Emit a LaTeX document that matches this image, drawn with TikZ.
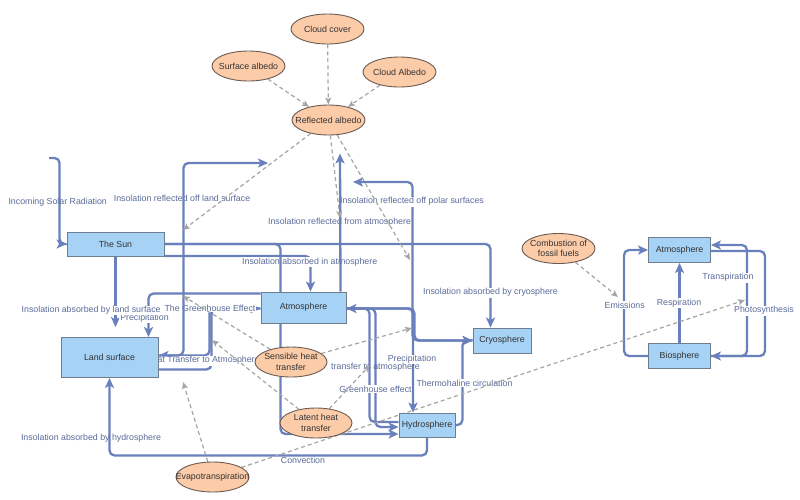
\documentclass[tikz,border=0pt]{standalone}
\usepackage{fontspec}
\setmainfont{Liberation Sans}
\usetikzlibrary{shapes.geometric,arrows.meta,calc}
\definecolor{boxfill}{HTML}{A6D2F5}
\definecolor{boxline}{HTML}{6E7E8E}
\definecolor{ellfill}{HTML}{FCCBA8}
\definecolor{ellline}{HTML}{6B5B53}
\definecolor{linkblue}{HTML}{6A80BC}
\definecolor{lbltxt}{HTML}{5B6C9A}
\definecolor{dashgray}{HTML}{A5A5A5}
\definecolor{nodetxt}{HTML}{333333}
\pgfdeclarelayer{paper}
\pgfdeclarelayer{bg}
\pgfsetlayers{paper,bg,main}
\tikzset{
  every node/.style={font=\fontsize{8.8}{10.5}\selectfont},
  box/.style={draw=boxline, line width=0.9pt, fill=boxfill, text=nodetxt, inner sep=0pt},
  ell/.style={ellipse, draw=ellline, line width=0.9pt, fill=ellfill, inner sep=0pt, minimum width=73pt, minimum height=30pt},
  elltext/.style={text=nodetxt, align=center, inner sep=0pt},
  lbl/.style={text=lbltxt, inner sep=0.8pt},
  lblw/.style={lbl, fill=white},
  plain/.style={draw=linkblue, line width=2.3pt, rounded corners=5pt},
  link/.style={plain, -{Stealth[length=10pt,width=9pt,inset=2.5pt]}},
  dasharr/.style={draw=dashgray, line width=1.2pt, dash pattern=on 4pt off 3pt, -{Stealth[length=7pt,width=6pt,inset=1.5pt]}}
}
\begin{document}
\begin{tikzpicture}[x=1pt,y=-1pt]
\begin{pgfonlayer}{paper}
\path[use as bounding box, fill=white] (0,0) rectangle (800,499);
\end{pgfonlayer}

% boxes
\node[box, minimum width=97pt, minimum height=24pt] (sun) at (115.5,244) {The Sun};
\node[box, minimum width=85pt, minimum height=31pt] (atm) at (303.5,307.5) {Atmosphere};
\node[box, minimum width=97pt, minimum height=40pt] (land) at (109.5,357.5) {Land surface};
\node[box, minimum width=58pt, minimum height=25pt] (cryo) at (502,340.5) {Cryosphere};
\node[box, minimum width=56pt, minimum height=24pt] (hydro) at (427,425) {Hydrosphere};
\node[box, minimum width=62pt, minimum height=25pt] (atmr) at (679.5,250) {Atmosphere};
\node[box, minimum width=62pt, minimum height=25pt] (bio) at (679.5,356) {Biosphere};

% ellipses
\node[ell, label={[elltext]center:Cloud cover}] (cloudcov) at (327.5,29) {};
\node[ell, label={[elltext]center:Surface albedo}] (surfalb) at (248.5,66) {};
\node[ell, label={[elltext]center:Cloud Albedo}] (cloudalb) at (399.5,72) {};
\node[ell, label={[elltext]center:Reflected albedo}] (refl) at (328.5,120) {};
\node[ell, label={[elltext]center:{Combustion of\\fossil fuels}}] (combust) at (558.5,248.5) {};
\node[ell, minimum width=72pt, label={[elltext]center:{Sensible heat\\transfer}}] (sens) at (291,362) {};
\node[ell, minimum width=72pt, label={[elltext]center:{Latent heat\\transfer}}] (latent) at (316,423) {};
\node[ell, label={[elltext]center:Evapotranspiration}] (evap) at (212.5,477) {};

% free ends
\coordinate (solarin) at (49,158);
\coordinate (reflland) at (268,163);
\coordinate (polar) at (353,182);
\coordinate (d1) at (183,230);
\coordinate (d2) at (340,218);
\coordinate (d3) at (410,260);
\coordinate (d4) at (618,297);
\coordinate (d5) at (745,300);
\coordinate (d6) at (183,382);
\coordinate (d7) at (183,296);
\coordinate (d8) at (412,328);
\coordinate (d9) at (212,340);
\coordinate (d10) at (370,365);

\begin{pgfonlayer}{bg}
% connectors under labels
\draw[link] (solarin) -| ($(sun.west)+(-7,0)$) -- (sun.west);
\draw[link] (sun.east) -| ($(cryo.north)+(-11.5,0)$);
\draw[link] ($(sun.east)+(0,12)$) -| ($(atm.north)+(7,0)$);
\draw[link, shorten >=10pt] (sun.south) -- (sun.south |- land.north);
\draw[link] ($(atm.west)+(0,-14)$) -| ($(land.north)+(39,0)$);
\draw[link] ($(atm.west)+(0,1)$) -- ++(-51,0) |- ($(land.east)+(0,-2)$);
\draw[link] ($(land.east)+(0,12)$) -- ++(53,0) |- ($(atm.west)+(0,1)$);
\draw[link] (hydro.south) -- ++(0,18) -| (land.south);
\draw[link] ($(atm.east)+(0,1)$) -| ($(hydro.north)+(-14,0)$);
\draw[link] ($(atm.east)+(0,1)$) -- ++(68,0) |- (cryo.west);
\draw[link] (cryo.west) -- ++(-60,0) |- (polar);
\draw[link] (hydro.east) -- ++(7,0) |- (cryo.west);
\draw[link] ($(hydro.west)+(0,-3)$) -- ++(-29,0) |- ($(atm.east)+(0,1)$);
\draw[link] ($(atm.east)+(0,1)$) -- ++(29,0) |- ($(hydro.west)+(0,2)$);
\draw[link] (bio.west) -- ++(-24,0) |- (atmr.west);
\draw[link] (bio.north) -- (atmr.south);
\draw[link] (bio.east) -- ++(36,0) |- ($(atmr.east)+(0,-5)$);
\draw[link] ($(atmr.east)+(0,1)$) -- ++(54,0) |- (bio.east);

% labels
\node[lbl] (t1) at (57.7,202) {Incoming Solar Radiation};
\node[lbl] (t2) at (182,198.3) {Insolation reflected off land surface};
\node[lblw] (t3) at (412,201.7) {Insolation reflected off polar surfaces};
\node[lbl] (t4) at (339.5,222.7) {Insolation reflected from atmosphere};
\node[lblw] (t5) at (309.7,262.3) {Insolation absorbed in atmosphere};
\node[lblw] (t6) at (490.5,292.7) {Insolation absorbed by cryosphere};
\node[lblw] (t7) at (144.5,318.5) {Precipitation};
\node[lblw] (t8) at (91.2,310.5) {Insolation absorbed by land surface};
\node[lblw] (t9) at (210,308) {The Greenhouse Effect};
\node[lblw] (t10) at (203,360.7) {Heat Transfer to Atmosphere};
\node[lblw] (t12) at (412,359.5) {Precipitation};
\node[lbl] (t11) at (375.5,367.5) {transfer to atmosphere};
\node[lblw] (t13) at (375.5,389) {Greenhouse effect};
\node[lblw] (t14) at (464.5,383) {Thermohaline circulation};
\node[lbl] (t15) at (91,438.3) {Insolation absorbed by hydrosphere};
\node[lblw] (t16) at (303,460.7) {Convection};
\node[lblw] (t17) at (624.7,305) {Emissions};
\node[lblw] (t18) at (679,303.3) {Respiration};
\node[lblw] (t19) at (728,277.7) {Transpiration};
\node[lblw] (t20) at (764,310.7) {Photosynthesis};

% connectors over labels
\draw[link] (sun.east) -- ++(116,0) |- ($(hydro.west)+(0,9)$);
\draw[link] ($(atm.north)+(37,0)$) -- ($(refl.south)+(11.5,18)$);
\draw[link] ($(land.east)+(0,-2)$) -- ++(25,0) |- (reflland);

% dashed influences
\draw[dasharr] (cloudcov) -- (refl);
\draw[dasharr] (surfalb) -- (refl);
\draw[dasharr] (cloudalb) -- (refl);
\draw[dasharr] (refl) -- (d1);
\draw[dasharr] (refl) -- (d2);
\draw[dasharr] (refl) -- (d3);
\draw[dasharr] (combust) -- (d4);
\draw[dasharr] (evap) -- (d5);
\draw[dasharr] (evap) -- (d6);
\draw[dasharr] (sens) -- (d7);
\draw[dasharr] (sens) -- (d8);
\draw[dasharr] (latent) -- (d9);
\draw[dasharr] (latent) -- (d10);
\end{pgfonlayer}
\end{tikzpicture}
\end{document}
